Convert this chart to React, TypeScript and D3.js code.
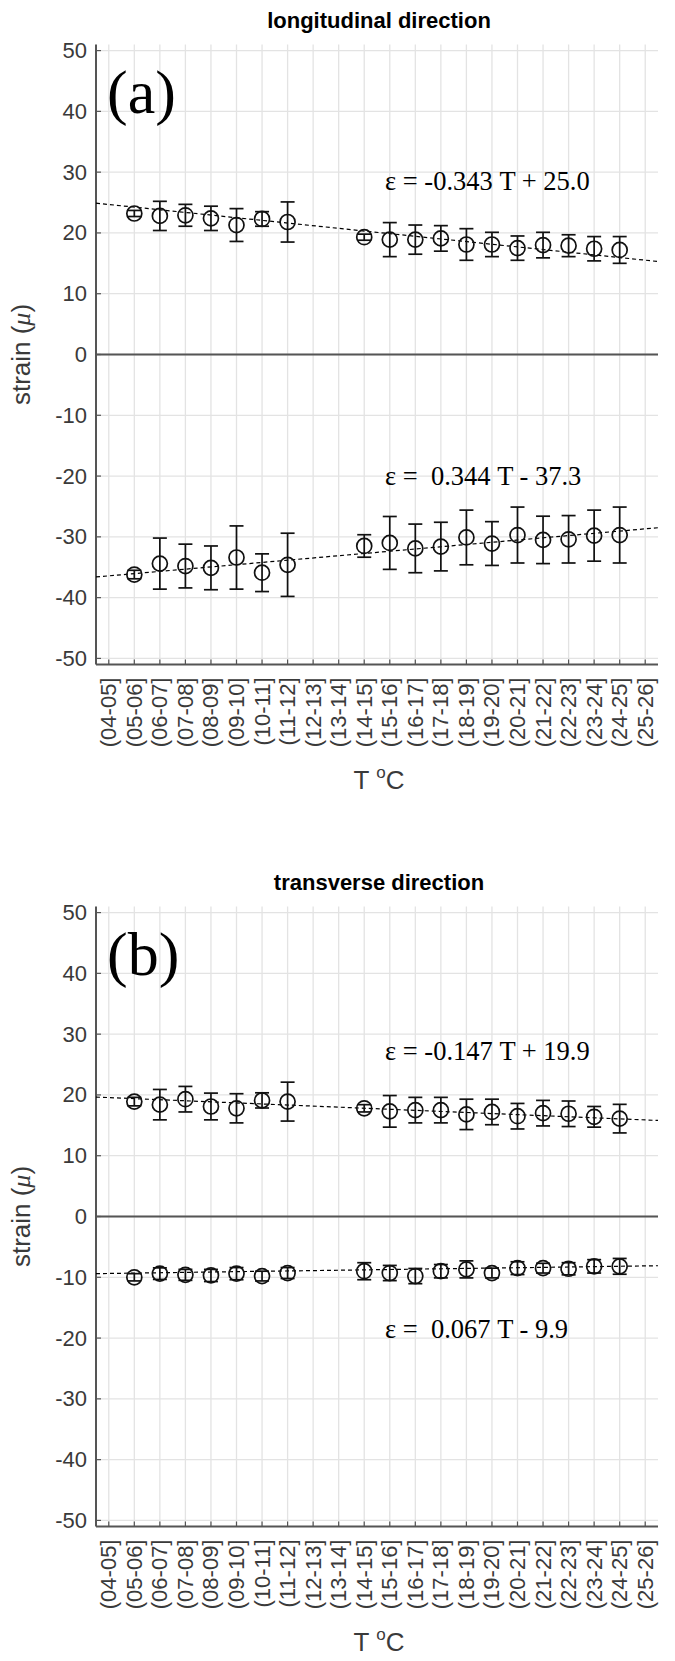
import React from "react";
import * as d3 from "d3";

// ---------- data ----------
const categories = [
  "(04-05]", "(05-06]", "(06-07]", "(07-08]", "(08-09]", "(09-10]", "(10-11]",
  "(11-12]", "(12-13]", "(13-14]", "(14-15]", "(15-16]", "(16-17]", "(17-18]",
  "(18-19]", "(19-20]", "(20-21]", "(21-22]", "(22-23]", "(23-24]", "(24-25]", "(25-26]",
];
// category positions (1-based) that carry a measurement
const measuredCats = [2, 3, 4, 5, 6, 7, 8, 11, 12, 13, 14, 15, 16, 17, 18, 19, 20, 21];

const yTicks = [-50, -40, -30, -20, -10, 0, 10, 20, 30, 40, 50];

// panel (a) longitudinal
const longUpperMean = [23.2, 22.8, 22.9, 22.4, 21.3, 22.3, 21.8, 19.3, 18.9, 18.9, 19.1, 18.1, 18.1, 17.5, 18.0, 17.9, 17.4, 17.2];
const longUpperErr = [0.5, 2.4, 1.8, 2.0, 2.7, 1.2, 3.3, 0.5, 2.8, 2.4, 2.1, 2.6, 2.0, 2.0, 2.1, 1.8, 2.0, 2.2];
const longLowerMean = [-36.2, -34.4, -34.8, -35.1, -33.4, -35.9, -34.6, -31.5, -31.0, -31.9, -31.6, -30.1, -31.1, -29.7, -30.5, -30.4, -29.8, -29.7];
const longLowerErr = [0.7, 4.2, 3.6, 3.6, 5.2, 3.1, 5.2, 1.85, 4.35, 4.0, 4.0, 4.5, 3.6, 4.6, 3.9, 3.9, 4.2, 4.6];

// panel (b) transverse
const transUpperMean = [18.9, 18.4, 19.3, 18.1, 17.8, 19.1, 18.9, 17.8, 17.3, 17.5, 17.5, 16.8, 17.2, 16.5, 17.0, 16.9, 16.4, 16.1];
const transUpperErr = [0.7, 2.5, 2.1, 2.2, 2.4, 1.25, 3.2, 0.6, 2.6, 2.1, 2.1, 2.5, 2.1, 2.1, 2.1, 2.1, 1.7, 2.35];
const transLowerMean = [-10.0, -9.4, -9.6, -9.7, -9.4, -9.8, -9.3, -9.0, -9.3, -9.8, -9.0, -8.7, -9.3, -8.5, -8.5, -8.6, -8.2, -8.2];
const transLowerErr = [0.6, 0.95, 0.9, 1.0, 1.0, 0.8, 0.9, 1.4, 1.25, 1.25, 1.1, 1.4, 0.8, 1.05, 0.8, 1.0, 1.1, 1.3];

// dashed fit lines: value at left and right end of the axis
const fitX = [0.5, 22.5];
const longFitUpper = [24.9, 15.3];
const longFitLower = [-36.6, -28.5];
const transFitUpper = [19.65, 15.8];
const transFitLower = [-9.4, -8.1];

const longEquations = ["ε = -0.343 T + 25.0", "ε =  0.344 T - 37.3"];
const transEquations = ["ε = -0.147 T + 19.9", "ε =  0.067 T - 9.9"];

// ---------- layout ----------
const W = 675;
const H = 1661;
const PLOT_L = 96;
const PLOT_R = 658;
const PLOT_T = 44.5;
const PLOT_B = 664.5;
const SANS = "'Liberation Sans', Arial, sans-serif";
const SERIF = "'Liberation Serif', 'Times New Roman', serif";

const x = d3.scaleLinear().domain([0.5, 22.5]).range([PLOT_L, PLOT_R]);
const y = d3.scaleLinear().domain([-51, 51]).range([PLOT_B, PLOT_T]);

type Series = { mean: number[]; err: number[]; fit: number[] };

function SeriesMarks({ s }: { s: Series }) {
  const line = d3
    .line<[number, number]>()
    .x((d) => x(d[0]))
    .y((d) => y(d[1]));
  const pts: [number, number][] = fitX.map((fx, i) => [fx, s.fit[i]]);
  return (
    <g>
      <path d={line(pts) || ""} fill="none" stroke="#000" strokeWidth={1.2} strokeDasharray="4,3" />
      {measuredCats.map((c, i) => {
        const cx = x(c);
        const m = s.mean[i];
        const e = s.err[i];
        const yt = y(m + e);
        const yb = y(m - e);
        const cap = 7;
        return (
          <g key={c} stroke="#111" strokeWidth={1.7} fill="none">
            <line x1={cx} x2={cx} y1={yt} y2={yb} />
            <line x1={cx - cap} x2={cx + cap} y1={yt} y2={yt} />
            <line x1={cx - cap} x2={cx + cap} y1={yb} y2={yb} />
            <circle cx={cx} cy={y(m)} r={7.5} />
          </g>
        );
      })}
    </g>
  );
}

function Panel({
  offset,
  title,
  tag,
  upper,
  lower,
  eqs,
  eqY,
}: {
  offset: number;
  title: string;
  tag: string;
  upper: Series;
  lower: Series;
  eqs: string[];
  eqY: number[];
}) {
  const cats = d3.range(1, categories.length + 1);
  const midX = (PLOT_L + PLOT_R) / 2;
  return (
    <g transform={`translate(0,${offset})`}>
      {/* grid */}
      <g stroke="#e3e3e3" strokeWidth={1.3}>
        {cats.map((c) => (
          <line key={"v" + c} x1={x(c)} x2={x(c)} y1={PLOT_T} y2={PLOT_B} />
        ))}
        {yTicks.map((t) => (
          <line key={"h" + t} x1={PLOT_L} x2={PLOT_R} y1={y(t)} y2={y(t)} />
        ))}
      </g>
      {/* zero line */}
      <line x1={PLOT_L} x2={PLOT_R} y1={y(0)} y2={y(0)} stroke="#555" strokeWidth={2} />
      {/* axes */}
      <line x1={PLOT_L} x2={PLOT_L} y1={PLOT_T} y2={PLOT_B} stroke="#555" strokeWidth={2} />
      <line x1={PLOT_L} x2={PLOT_R} y1={PLOT_B} y2={PLOT_B} stroke="#555" strokeWidth={2.2} />
      {/* ticks */}
      <g stroke="#555" strokeWidth={1.2}>
        {yTicks.map((t) => (
          <line key={"yt" + t} x1={PLOT_L} x2={PLOT_L + 5} y1={y(t)} y2={y(t)} />
        ))}
        {cats.map((c) => (
          <line key={"xt" + c} x1={x(c)} x2={x(c)} y1={PLOT_B} y2={PLOT_B - 5} />
        ))}
      </g>
      {/* y tick labels */}
      <g fontFamily={SANS} fontSize={22} fill="#3a3a3a" textAnchor="end">
        {yTicks.map((t) => (
          <text key={"yl" + t} x={PLOT_L - 9} y={y(t)} dominantBaseline="central">
            {t}
          </text>
        ))}
      </g>
      {/* x tick labels */}
      <g fontFamily={SANS} fontSize={22} fill="#3a3a3a" textAnchor="end">
        {categories.map((lab, i) => {
          const cx = x(i + 1);
          const ty = PLOT_B + 13;
          return (
            <text
              key={lab}
              transform={`translate(${cx},${ty}) rotate(-90)`}
              dominantBaseline="central"
            >
              {lab}
            </text>
          );
        })}
      </g>
      {/* title */}
      <text x={midX + 2} y={28} textAnchor="middle" fontFamily={SANS} fontWeight="bold" fontSize={22} fill="#000">
        {title}
      </text>
      {/* axis labels */}
      <text x={midX + 2} y={789} textAnchor="middle" fontFamily={SANS} fontSize={26} fill="#3a3a3a">
        T <tspan fontSize={17} dy={-11}>o</tspan>
        <tspan dy={11}>C</tspan>
      </text>
      <text
        transform={`translate(30,${(PLOT_T + PLOT_B) / 2}) rotate(-90)`}
        textAnchor="middle"
        fontFamily={SANS}
        fontSize={26}
        fill="#3a3a3a"
      >
        strain (<tspan fontFamily={SERIF} fontStyle="italic">μ</tspan>)
      </text>
      {/* panel tag */}
      <text x={107} y={113} fontFamily={SERIF} fontSize={62} fill="#000">
        {tag}
      </text>
      {/* data */}
      <SeriesMarks s={upper} />
      <SeriesMarks s={lower} />
      {/* equations */}
      {eqs.map((e, i) => (
        <text
          key={e}
          x={385}
          y={eqY[i]}
          fontFamily={SERIF}
          fontSize={26.5}
          fill="#000"
          style={{ whiteSpace: "pre" }}
        >
          {e}
        </text>
      ))}
    </g>
  );
}

export default function App() {
  return (
    <svg
      width={W}
      height={H}
      viewBox={`0 0 ${W} ${H}`}
      style={{ position: "absolute", left: 0, top: 0, background: "#fff" }}
    >
      <rect width={W} height={H} fill="#fff" />
      <Panel
        offset={0}
        title="longitudinal direction"
        tag="(a)"
        upper={{ mean: longUpperMean, err: longUpperErr, fit: longFitUpper }}
        lower={{ mean: longLowerMean, err: longLowerErr, fit: longFitLower }}
        eqs={longEquations}
        eqY={[190, 485]}
      />
      <Panel
        offset={862}
        title="transverse direction"
        tag="(b)"
        upper={{ mean: transUpperMean, err: transUpperErr, fit: transFitUpper }}
        lower={{ mean: transLowerMean, err: transLowerErr, fit: transFitLower }}
        eqs={transEquations}
        eqY={[198, 476]}
      />
    </svg>
  );
}
